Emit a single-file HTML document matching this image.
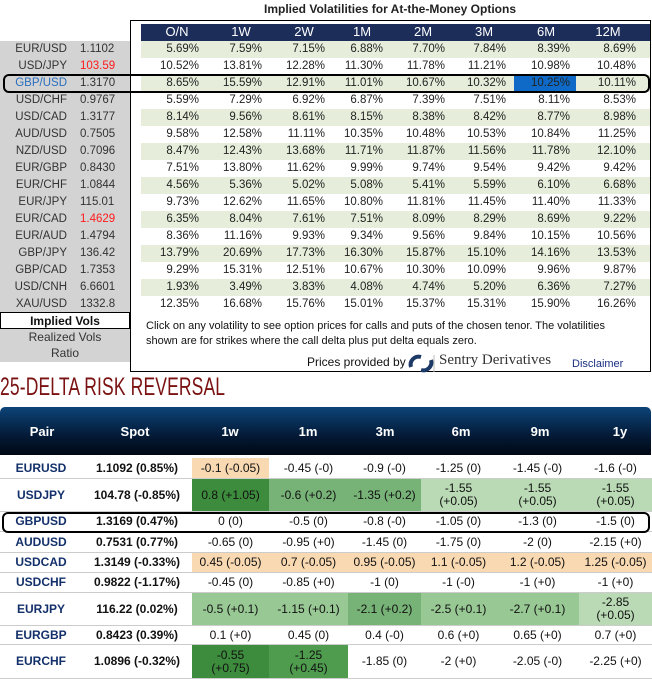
<!DOCTYPE html>
<html><head><meta charset="utf-8">
<style>
*{margin:0;padding:0;box-sizing:border-box}
body{width:652px;height:680px;overflow:hidden;background:#fff;font-family:"Liberation Sans",sans-serif;position:relative}
.abs{position:absolute}
#iv-title{left:0;width:780px;top:2px;text-align:center;font-weight:bold;font-size:12px;color:#222}
#iv-box{left:130px;top:20px;width:521px;height:352px;border:1.5px solid #000}
#iv-head{left:141px;top:24px;width:509px;height:17px;background:#1c2d5a}
.hc{position:absolute;top:24px;color:#fff;font-size:13px;text-align:center;width:60px}
#left-panel{left:0;top:41px;width:130px;height:321px;background:#d3d3d3}
.rowbg{position:absolute;left:141px;width:509px;height:17px}
.cell{position:absolute;font-size:11.5px;color:#222;text-align:right;width:60px}
.pl{position:absolute;font-size:11.5px;color:#333;text-align:right;width:60px;left:7px}
.pv{position:absolute;font-size:11.5px;color:#333;left:80px}
.tab{position:absolute;left:0;width:130px;height:17px;font-size:12px;text-align:center;line-height:17px;color:#333}
.note{font-size:11px;color:#111}
#rr-title{left:0;top:373px;font-size:25px;color:#7a1212;transform:scaleX(0.7);transform-origin:left top;letter-spacing:0.2px}
#rr-head{left:0;top:407px;width:651px;height:48px;border-radius:5px 5px 0 0;background:linear-gradient(#0c4478,#041a36 60%,#000814)}
.rh{position:absolute;top:424px;color:#fff;font-weight:bold;font-size:13px;text-align:center}
.rcell{position:absolute;font-size:12px;color:#111;text-align:center;display:flex;align-items:center;justify-content:center;line-height:13px;border-bottom:1px solid #ccc}
.hl{position:absolute;border:2.5px solid #000;border-radius:6px}
</style></head><body>
<div id="iv-title" class="abs">Implied Volatilities for At-the-Money Options</div>
<div id="left-panel" class="abs"></div>
<div id="iv-box" class="abs"></div>
<div id="iv-head" class="abs"></div>
<div class="tab" style="top:312px;background:#fff;border:1.5px solid #000;font-weight:bold;color:#111">Implied Vols</div>
<div class="tab" style="top:329px">Realized Vols</div>
<div class="tab" style="top:345px">Ratio</div>
<div class="abs note" style="left:146px;top:320px">Click on any volatility to see option prices for calls and puts of the chosen tenor. The volatilities</div>
<div class="abs note" style="left:146px;top:335px">shown are for strikes where the call delta plus put delta equals zero.</div>
<div class="abs" style="left:307px;top:355px;font-size:12px;color:#111">Prices provided by</div>
<svg class="abs" style="left:407px;top:353px" width="28" height="20"><path d="M4 14 A8 8 0 0 1 14 4" stroke="#1d3a66" stroke-width="4" fill="none"/><path d="M24 7 A8 8 0 0 1 14 17" stroke="#1d3a66" stroke-width="4" fill="none"/><line x1="27" y1="2" x2="27" y2="19" stroke="#bbb"/></svg>
<div class="abs" style="left:439px;top:352px;font-family:'Liberation Serif',serif;font-size:15px;color:#333">Sentry Derivatives</div>
<div class="abs" style="left:572px;top:358px;font-size:11px;color:#1a2f80">Disclaimer</div>
<div id="rr-title" class="abs">25-DELTA RISK REVERSAL</div>
<div id="rr-head" class="abs"></div>
<div id="root"></div>
<script>
const ivTenors=["O/N","1W","2W","1M","2M","3M","6M","12M"];
const ivPairs=["EUR/USD","USD/JPY","GBP/USD","USD/CHF","USD/CAD","AUD/USD","NZD/USD","EUR/GBP","EUR/CHF","EUR/JPY","EUR/CAD","EUR/AUD","GBP/JPY","GBP/CAD","USD/CNH","XAU/USD"];
const ivSpots=["1.1102","103.59","1.3170","0.9767","1.3177","0.7505","0.7096","0.8430","1.0844","115.01","1.4629","1.4794","136.42","1.7353","6.6601","1332.8"];
const ivVols=[
[5.69,7.59,7.15,6.88,7.70,7.84,8.39,8.69],
[10.52,13.81,12.28,11.30,11.78,11.21,10.98,10.48],
[8.65,15.59,12.91,11.01,10.67,10.32,10.25,10.11],
[5.59,7.29,6.92,6.87,7.39,7.51,8.11,8.53],
[8.14,9.56,8.61,8.15,8.38,8.42,8.77,8.98],
[9.58,12.58,11.11,10.35,10.48,10.53,10.84,11.25],
[8.47,12.43,13.68,11.71,11.87,11.56,11.78,12.10],
[7.51,13.80,11.62,9.99,9.74,9.54,9.42,9.42],
[4.56,5.36,5.02,5.08,5.41,5.59,6.10,6.68],
[9.73,12.62,11.65,10.80,11.81,11.45,11.40,11.33],
[6.35,8.04,7.61,7.51,8.09,8.29,8.69,9.22],
[8.36,11.16,9.93,9.34,9.56,9.84,10.15,10.56],
[13.79,20.69,17.73,16.30,15.87,15.10,14.16,13.53],
[9.29,15.31,12.51,10.67,10.30,10.09,9.96,9.87],
[1.93,3.49,3.83,4.08,4.74,5.20,6.36,7.27],
[12.35,16.68,15.76,15.01,15.37,15.31,15.90,16.26]];
const ivRedSpots=["USD/JPY","EUR/CAD"];

const rrTenors=["1w","1m","3m","6m","9m","1y"];
const rrPairs=["EURUSD","USDJPY","GBPUSD","AUDUSD","USDCAD","USDCHF","EURJPY","EURGBP","EURCHF"];
const rrSpots=["1.1092 (0.85%)","104.78 (-0.85%)","1.3169 (0.47%)","0.7531 (0.77%)","1.3149 (-0.33%)","0.9822 (-1.17%)","116.22 (0.02%)","0.8423 (0.39%)","1.0896 (-0.32%)"];
const rrValues=[
["-0.1 (-0.05)","-0.45 (-0)","-0.9 (-0)","-1.25 (0)","-1.45 (-0)","-1.6 (-0)"],
["0.8 (+1.05)","-0.6 (+0.2)","-1.35 (+0.2)","-1.55<br>(+0.05)","-1.55<br>(+0.05)","-1.55<br>(+0.05)"],
["0 (0)","-0.5 (0)","-0.8 (-0)","-1.05 (0)","-1.3 (0)","-1.5 (0)"],
["-0.65 (0)","-0.95 (+0)","-1.45 (0)","-1.75 (0)","-2 (0)","-2.15 (+0)"],
["0.45 (-0.05)","0.7 (-0.05)","0.95 (-0.05)","1.1 (-0.05)","1.2 (-0.05)","1.25 (-0.05)"],
["-0.45 (0)","-0.85 (+0)","-1 (0)","-1 (-0)","-1 (+0)","-1 (+0)"],
["-0.5 (+0.1)","-1.15 (+0.1)","-2.1 (+0.2)","-2.5 (+0.1)","-2.7 (+0.1)","-2.85<br>(+0.05)"],
["0.1 (+0)","0.45 (0)","0.4 (-0)","0.6 (+0)","0.65 (+0)","0.7 (+0)"],
["-0.55<br>(+0.75)","-1.25<br>(+0.45)","-1.85 (0)","-2 (+0)","-2.05 (-0)","-2.25 (+0)"]];
const rrShade=[
["P","","","","",""],
["D","M","M","L","L","L"],
["","","","","",""],
["","","","","",""],
["P","P","P","P","P","P"],
["","","","","",""],
["N","N","M","N","N","L"],
["","","","","",""],
["D","E","","","",""]];

const root=document.getElementById('root');
function add(cls,style,html){const d=document.createElement('div');d.className=cls;d.style.cssText=style;d.innerHTML=html;root.appendChild(d);return d;}

const ivCenters=[177,241,304,362,423,484,546,608];
const ivRight=[199,262,325,383,445,506,570,636];
ivTenors.forEach((t,i)=>{
 const h=add('hc','left:'+(ivCenters[i]-30)+'px',t);
 
 
});
const rowTop=41,rowH=17;
ivPairs.forEach((p,r)=>{
 const y=rowTop+r*rowH;
 if(r%2===0){const bg=add('rowbg','top:'+y+'px;background:#e6eedb','');
  
  }
 const pl=add('pl','top:'+(y+2)+'px;'+(p==='GBP/USD'?'color:#2a6fc0':''),p);
 
 
 const pv=add('pv','top:'+(y+2)+'px;'+(ivRedSpots.includes(p)?'color:#ff1a1a':''),ivSpots[r]);
 
 
 ivVols[r].forEach((v,c)=>{
  if(r===2&&c===6){const b=add('rowbg','left:514px;width:62px;top:'+y+'px;background:#0e6ac6','');
   
   }
  const cell=add('cell','top:'+(y+2)+'px;left:'+(ivRight[c]-60)+'px',v.toFixed(2)+'%');
  
  
 });
});
const hl1=add('hl','left:3px;top:74px;width:647px;height:19px','');



const rrEdges=[0,82,192,269,348,421,496,579,652];
const rrHeadCenters=[42,135,230,308,385,461,540,620];
["Pair","Spot"].concat(rrTenors).forEach((t,i)=>{
 const h=add('rh','left:'+(rrHeadCenters[i]-30)+'px;width:60px',t);
 
 
});
const rrHeights=[21,33,20,21,20,20,33,19,34];
const shadeColors={P:'#f8d9b2',D:'#3d8b3d',M:'#77b277',L:'#b9dab4',N:'#98c894',E:'#4f9c4f'};
let y=458;
rrPairs.forEach((p,r)=>{
 const h=rrHeights[r];
 const pc=add('rcell','left:0;width:82px;top:'+y+'px;height:'+h+'px;font-weight:bold;color:#13306a',p);
 
 
 const sc=add('rcell','left:82px;width:110px;top:'+y+'px;height:'+h+'px;font-weight:bold',rrSpots[r]);
 
 
 rrValues[r].forEach((v,c)=>{
  const s=rrShade[r][c];
  const x=rrEdges[c+2],w=rrEdges[c+3]-x;
  const cell=add('rcell','left:'+x+'px;width:'+w+'px;top:'+y+'px;height:'+h+'px;'+(s?'background:'+shadeColors[s]:''),v);
  
  
 });
 y+=h;
});
const hl2=add('hl','left:2px;top:512px;width:648px;height:21px','');


</script>
</body></html>
